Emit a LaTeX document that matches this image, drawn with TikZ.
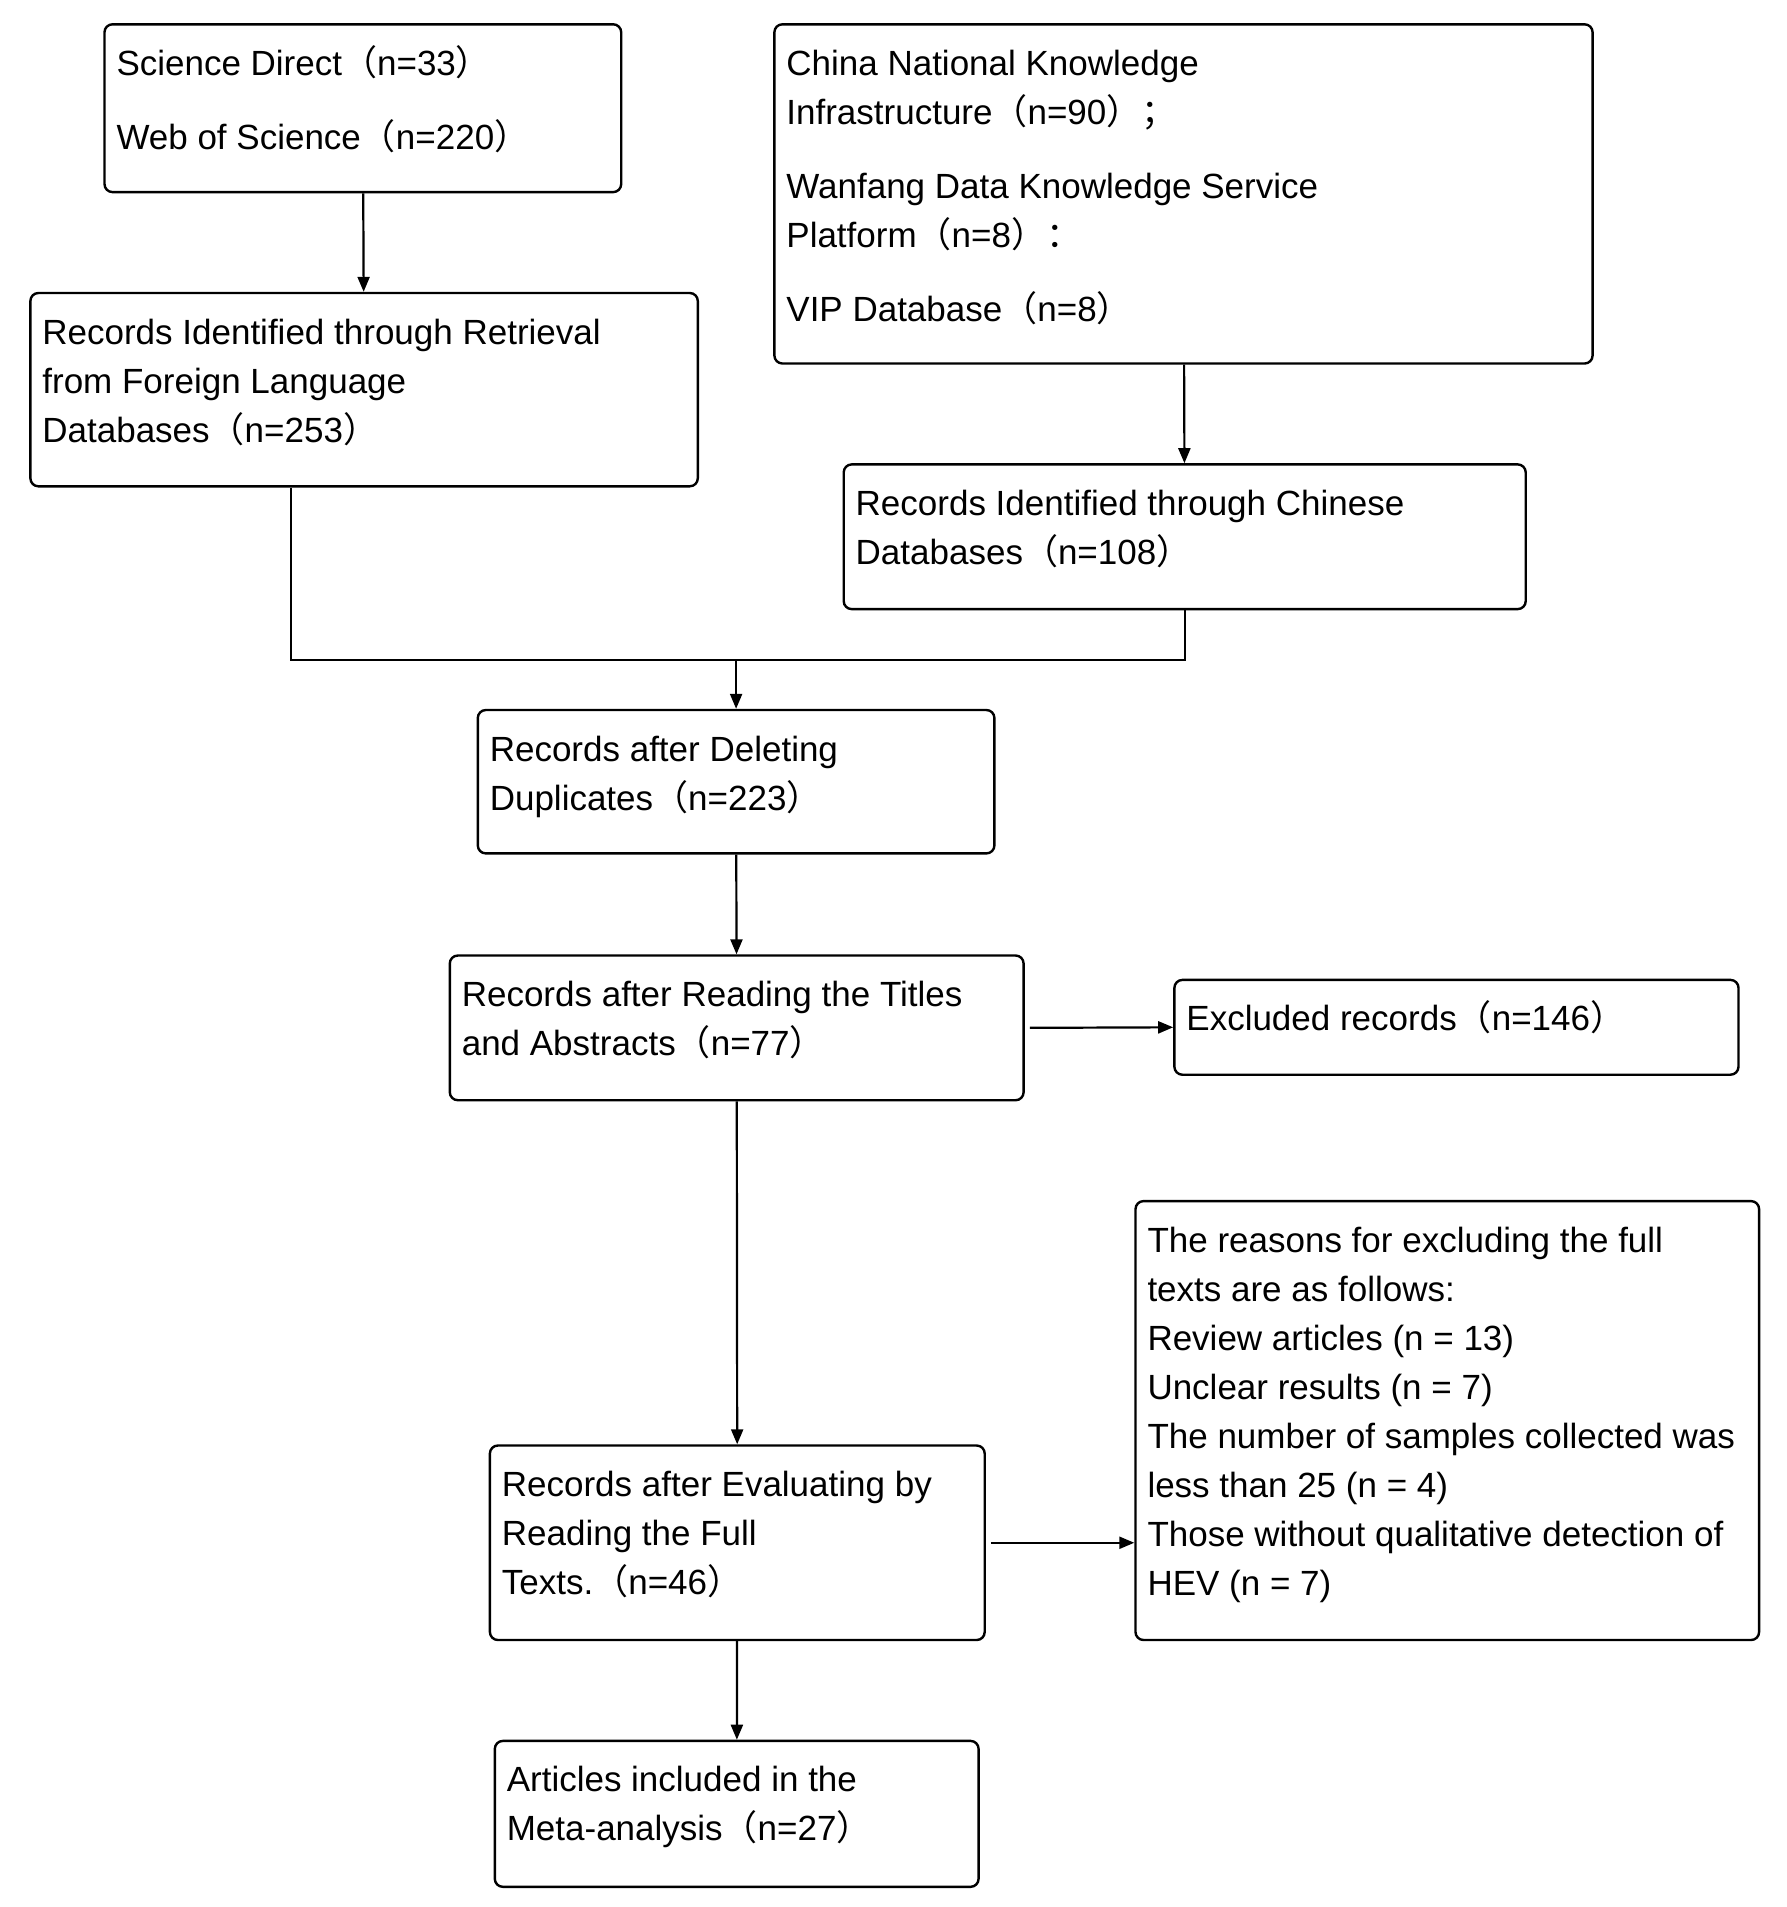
\documentclass[tikz,border=0pt]{standalone}
\usepackage{fontspec}
\setmainfont{Liberation Sans}
\newfontfamily\cjk{Noto Sans CJK SC}
\usetikzlibrary{arrows.meta}
\newcommand\LP{{\cjk （}}
\newcommand\RP{{\cjk ）}}
\newcommand\SCo{{\cjk ；}}
\newcommand\CLn{{\cjk ：}}
\tikzset{
  bx/.style={draw, line width=2.4pt, rounded corners=8pt, inner sep=0pt, fill=white},
  arr/.style={line width=2.2pt, -{Triangle[length=15pt,width=12pt]}},
  ln/.style={line width=2.2pt},
}
\newcommand\bx[6]{%
  \node[bx, minimum width={#4-#2}, minimum height={#5-#3}] (#1) at ({(#2+#4)/2},{-(#3+#5)/2})
  {\parbox[c][\dimexpr#5pt-#3pt\relax][t]{\dimexpr#4pt-#2pt-24pt\relax}{\rule{0pt}{51pt}#6}};}
\begin{document}
\begin{tikzpicture}[x=1pt,y=1pt,font=\fontsize{35pt}{49pt}\selectfont]
\useasboundingbox[fill=white] (0,0) rectangle (1787,-1907);
\bx{A}{104.5}{24.3}{621.2}{192.1}{Science Direct\LP n=33\RP\\[25pt]Web of Science\LP n=220\RP}
\bx{B}{774.4}{24.3}{1592.6}{363.5}{China National Knowledge\\Infrastructure\LP n=90\RP\SCo\\[25pt]Wanfang Data Knowledge Service\\Platform\LP n=8\RP\CLn\\[25pt]VIP Database\LP n=8\RP}
\bx{C}{30.4}{293}{697.8}{486.3}{Records Identified through Retrieval\\from Foreign Language\\Databases\LP n=253\RP}
\bx{D}{843.7}{464.4}{1525.7}{609.1}{Records Identified through Chinese\\Databases\LP n=108\RP}
\bx{E}{477.8}{710}{994.4}{853.4}{Records after Deleting\\Duplicates\LP n=223\RP}
\bx{F}{449.8}{955.5}{1023.6}{1100.2}{Records after Reading the Titles\\and Abstracts\LP n=77\RP}
\bx{G}{1174.4}{979.9}{1738.5}{1074.7}{Excluded records\LP n=146\RP}
\bx{I}{1135.5}{1201.1}{1759.1}{1640}{The reasons for excluding the full\\texts are as follows:\\Review articles (n = 13)\\Unclear results (n = 7)\\The number of samples collected was\\less than 25 (n = 4)\\Those without qualitative detection of\\HEV (n = 7)}
\bx{H}{489.9}{1445.5}{984.7}{1640}{Records after Evaluating by\\Reading the Full\\Texts.\LP n=46\RP}
\bx{J}{494.8}{1740.9}{978.6}{1886.8}{Articles included in the\\Meta-analysis\LP n=27\RP}
\coordinate (jl) at (290.6,-660.1);
\coordinate (jr) at (D.south |- jl);
\coordinate (jm) at (E.north |- jl);
\draw[arr] (A) -- (C);
\draw[arr] (B) -- (D);
\draw[ln] (jl |- C.south) -- (jl) -- (jr) -- (D.south);
\draw[arr] (jm) -- (E.north);
\draw[arr] (E) -- (F);
\draw[arr, shorten <=5pt] (F.east) -- (G.west);
\draw[arr] (F) -- (H);
\draw[arr, shorten <=5pt] (H.east) -- (H.east -| I.west);
\draw[arr] (H) -- (J);
\end{tikzpicture}
\end{document}
